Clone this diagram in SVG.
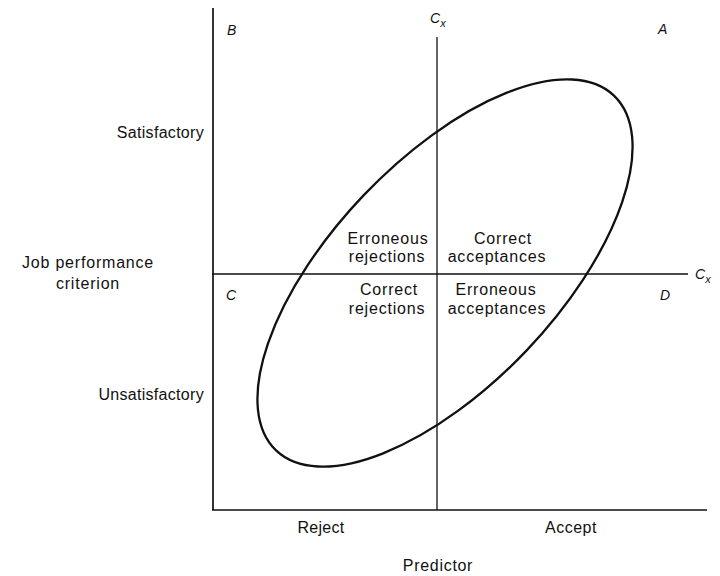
<svg xmlns="http://www.w3.org/2000/svg" width="720" height="576" viewBox="0 0 720 576">
<style>
.t{font-family:"Liberation Sans",Arial,sans-serif;font-size:16px;fill:#111;letter-spacing:0.8px}
.m{text-anchor:middle}
.e{text-anchor:end;letter-spacing:0.3px}
.it{font-family:"Liberation Sans",Arial,sans-serif;font-size:14px;font-style:italic;fill:#111}
.ax{stroke:#111;stroke-width:1.7;fill:none}
.cut{stroke:#111;stroke-width:1.3;fill:none}
.ell{stroke:#111;stroke-width:2.3;fill:none}
</style>
<rect width="720" height="576" fill="#fff"/>
<g id="connectors">
<line class="ax" x1="213" y1="8" x2="213" y2="510"/>
<line class="ax" x1="212" y1="510" x2="707" y2="510"/>
<line class="cut" x1="437" y1="37" x2="437" y2="510"/>
<line class="cut" x1="212" y1="274" x2="688" y2="274"/>
</g>
<g id="scatter-ellipse">
<ellipse class="ell" cx="445" cy="273" rx="245" ry="112.5" transform="rotate(-46.4 445 273)"/>
</g>
<g id="quadrant-labels">
<text class="it" x="227" y="35">B</text>
<text class="it" x="658" y="34">A</text>
<text class="it" x="226" y="300">C</text>
<text class="it" x="660" y="300">D</text>
<text class="it" x="430" y="23">C<tspan font-size="11" dy="4">x</tspan></text>
<text class="it" x="695" y="279">C<tspan font-size="11" dy="4">x</tspan></text>
</g>
<g id="cell-upper-left"><text class="t m" x="388" y="244">Erroneous</text><text class="t m" x="387" y="262">rejections</text></g>
<g id="cell-upper-right"><text class="t m" x="503" y="244">Correct</text><text class="t m" x="497" y="262">acceptances</text></g>
<g id="cell-lower-left"><text class="t m" x="389" y="295">Correct</text><text class="t m" x="387" y="314">rejections</text></g>
<g id="cell-lower-right"><text class="t m" x="496" y="295">Erroneous</text><text class="t m" x="497" y="314">acceptances</text></g>
<g id="y-axis-labels">
<text class="t e" x="204" y="138">Satisfactory</text>
<text class="t e" x="204" y="400">Unsatisfactory</text>
<text class="t m" x="88" y="268">Job performance</text>
<text class="t m" x="88" y="289">criterion</text>
</g>
<g id="x-axis-labels">
<text class="t m" x="321" y="533" style="letter-spacing:0.3px">Reject</text>
<text class="t m" x="571" y="533" style="letter-spacing:0.5px">Accept</text>
<text class="t m" x="438" y="571" style="letter-spacing:0.7px">Predictor</text>
</g>
</svg>
